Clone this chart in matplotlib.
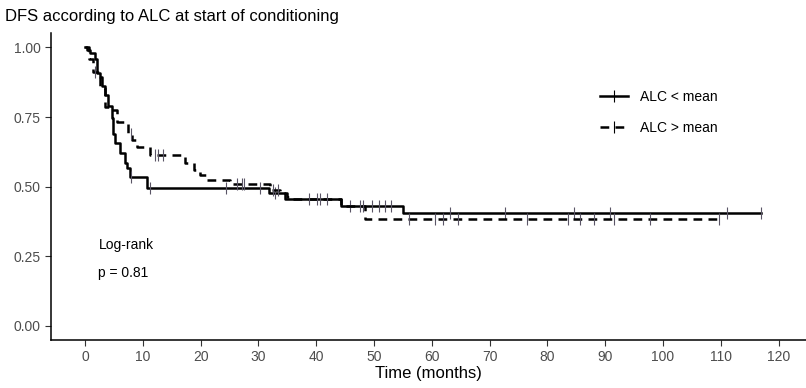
import numpy as np
import matplotlib
matplotlib.use("Agg")
import matplotlib.pyplot as plt
from matplotlib.lines import Line2D

plt.rcParams['font.family'] = ['Liberation Sans', 'DejaVu Sans']

# Kaplan-Meier steps (time in months, survival)
times_low = [0, 0.3, 0.9, 1.7, 2.0, 2.6, 2.9, 3.5, 4.0, 4.6, 4.9, 5.2, 6.1, 6.9, 7.2, 7.8, 10.7,
             31.9, 34.6, 44.3, 55.1, 116.9]
surv_low = [1.00, 0.99, 0.98, 0.96, 0.91, 0.895, 0.86, 0.83, 0.79, 0.745, 0.69, 0.656, 0.62, 0.584, 0.566, 0.536, 0.494,
            0.476, 0.455, 0.43, 0.405, 0.405]

times_high = [0, 0.6, 1.4, 2.6, 3.5, 4.3, 5.5, 7.5, 8.1, 8.9, 11.3, 17.3, 18.8, 19.9, 21.1, 25.1,
              32.0, 33.8, 35.0, 36.0, 44.2, 48.5, 109.7]
surv_high = [1.00, 0.96, 0.913, 0.853, 0.787, 0.776, 0.733, 0.69, 0.668, 0.644, 0.614, 0.584, 0.56, 0.542, 0.524, 0.509,
             0.488, 0.476, 0.464, 0.455, 0.43, 0.383, 0.383]

# censoring times
cens_low = [8.0, 11.3, 24.3, 30.3, 32.9, 45.9, 47.6, 49.6, 50.8, 51.9, 52.9, 63.2, 72.7, 84.6, 90.9, 111.0, 116.9]
cens_high = [1.7, 8.0, 12.1, 12.7, 13.4, 26.3, 27.1, 27.5, 32.5, 33.4, 38.7, 40.1, 40.6, 41.8, 48.1,
             56.0, 60.6, 61.9, 64.5, 76.5, 83.6, 85.7, 88.0, 91.5, 97.8, 109.7]

labels = ['ALC < mean', 'ALC > mean']
x_ticks = np.arange(0, 121, 10)
y_ticks = [0.00, 0.25, 0.50, 0.75, 1.00]

fig = plt.figure(figsize=(8.06, 3.88), dpi=100)
ax = fig.add_axes([0.0633, 0.124, 0.937, 0.791])

dash = (0, (3.5, 2.5))
groups = [(times_low, surv_low, cens_low, '-'), (times_high, surv_high, cens_high, dash)]
for t, s, c, ls in groups:
    ax.step(t, s, where='post', color='black', lw=1.8, linestyle=ls)
    # survival at each censor time from the step curve
    idx = np.searchsorted(t, c, side='right') - 1
    ax.plot(c, np.array(s)[idx], linestyle='none', marker='|', markersize=8,
            markeredgewidth=0.8, color='#5a5566')

handles = [Line2D([], [], color='black', lw=1.8, linestyle='-', marker='|', markersize=8, markeredgewidth=0.8),
           Line2D([], [], color='black', lw=1.8, linestyle=dash, marker='|', markersize=8, markeredgewidth=0.8)]
ax.legend(handles, labels, loc='upper left', bbox_to_anchor=(0.727, 0.814), frameon=False,
          borderaxespad=0, borderpad=0, handlelength=2.0, handletextpad=0.85, labelspacing=1.2,
          numpoints=1, fontsize=10)

ax.text(2.3, 0.29, 'Log-rank', fontsize=10, va='center', ha='left')
ax.text(2.3, 0.19, 'p = 0.81', fontsize=10, va='center', ha='left')

ax.set_xlim(-5.9, 124.8)
ax.set_ylim(-0.05, 1.052)
ax.set_xticks(x_ticks)
ax.set_yticks(y_ticks)
ax.set_yticklabels(['%.2f' % v for v in y_ticks])
ax.tick_params(colors='#333333', labelcolor='#4d4d4d', labelsize=10, length=4, width=0.8)
for side in ['top', 'right']:
    ax.spines[side].set_visible(False)
for side in ['left', 'bottom']:
    ax.spines[side].set_linewidth(1.1)

ax.set_xlabel('Time (months)', fontsize=12, labelpad=1)
fig.text(5 / 806, 1 - 21 / 388, 'DFS according to ALC at start of conditioning', fontsize=12, va='baseline')

plt.savefig('out.png', dpi=100)
